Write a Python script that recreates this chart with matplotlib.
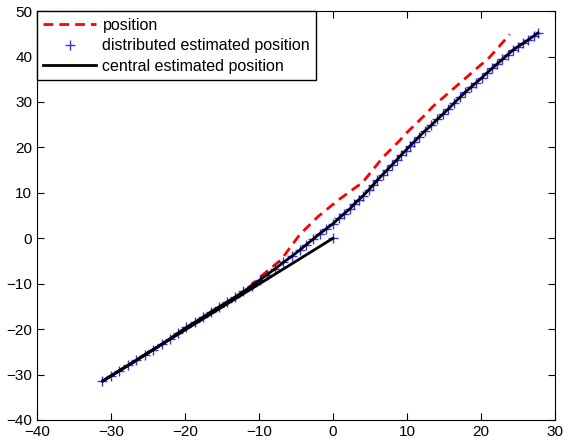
import matplotlib
matplotlib.use('Agg')
from matplotlib import pyplot as plt

plt.rcParams['font.family'] = ['Liberation Sans', 'DejaVu Sans']
plt.rcParams['font.size'] = 11

# true trajectory
pos_x = [-31.2, -25.0, -20.0, -15.0, -12.0, -9.9, -7.0, -4.5, -2.0, 0.7,
         4.0, 6.8, 9.0, 10.0, 12.4, 13.5, 17.6, 21.2, 23.9]
pos_y = [-31.5, -25.3, -20.0, -15.0, -11.8, -8.6, -4.7, 0.8, 4.8, 8.4,
         12.3, 17.9, 21.5, 23.3, 27.1, 29.0, 34.8, 39.9, 44.9]

# estimated trajectory (first sample is the zero initial guess)
est_x = [0.0, -31.2, -30.0, -28.9, -27.7, -26.6, -25.4, -24.3, -23.1, -22.0,
         -20.9, -19.8, -18.7, -17.6, -16.5, -15.4, -14.3, -13.2, -12.1, -11.0,
         -9.9, -8.9, -7.8, -6.7, -5.6, -4.5, -3.6, -2.7, -1.8, -0.9,
         0.0, 0.8, 1.5, 2.3, 2.9, 3.5, 4.1, 4.8, 5.4, 6.0,
         6.7, 7.3, 8.0, 8.6, 9.2, 9.8, 10.4, 11.0, 11.6, 12.4,
         13.3, 14.1, 14.9, 15.6, 16.4, 17.2, 17.9, 18.6, 19.3, 20.1,
         20.8, 21.5, 22.2, 22.9, 23.6, 24.3, 25.0, 25.7, 26.4, 27.1, 27.7]
est_y = [0.0, -31.5, -30.3, -29.2, -28.0, -26.9, -25.6, -24.5, -23.3, -22.1,
         -20.8, -19.6, -18.5, -17.4, -16.2, -15.1, -14.0, -12.9, -11.7, -10.5,
         -9.2, -8.0, -6.7, -5.3, -4.0, -2.6, -1.4, -0.2, 1.0, 2.1,
         3.2, 4.4, 5.4, 6.5, 7.6, 8.5, 9.4, 10.6, 11.7, 12.8,
         14.0, 15.0, 16.2, 17.2, 18.3, 19.3, 20.3, 21.3, 22.3, 23.6,
         24.9, 26.2, 27.4, 28.5, 29.8, 31.1, 32.2, 33.2, 34.2, 35.3,
         36.4, 37.4, 38.4, 39.4, 40.4, 41.4, 42.2, 42.9, 43.7, 44.5, 45.2]

fig = plt.figure(figsize=(5.64, 4.45), dpi=100)
ax = fig.add_axes([0.0656, 0.0562, 0.9184, 0.9188])

ax.plot(pos_x, pos_y, color='red', lw=2, dashes=(3.5, 2.2), label='position')
ax.plot(est_x, est_y, ls='none', marker='+', ms=7, mew=1, color='blue',
        alpha=0.8, label='distributed estimated position')
ax.plot(est_x, est_y, color='black', lw=2, label='central estimated position')

ax.set_xlim(-40, 30)
ax.set_ylim(-40, 50)
ax.set_xticks(range(-40, 31, 10))
ax.set_yticks(range(-40, 51, 10))
ax.tick_params(direction='in', top=True, right=True, length=5, labelsize=11)

leg = ax.legend(loc='upper left', borderaxespad=0, fancybox=False,
                framealpha=1, edgecolor='black', handlelength=3.3,
                handletextpad=0.4, labelspacing=0.35, fontsize=11.5)
leg.get_frame().set_linewidth(1)

fig.savefig('out.png', dpi=100)
